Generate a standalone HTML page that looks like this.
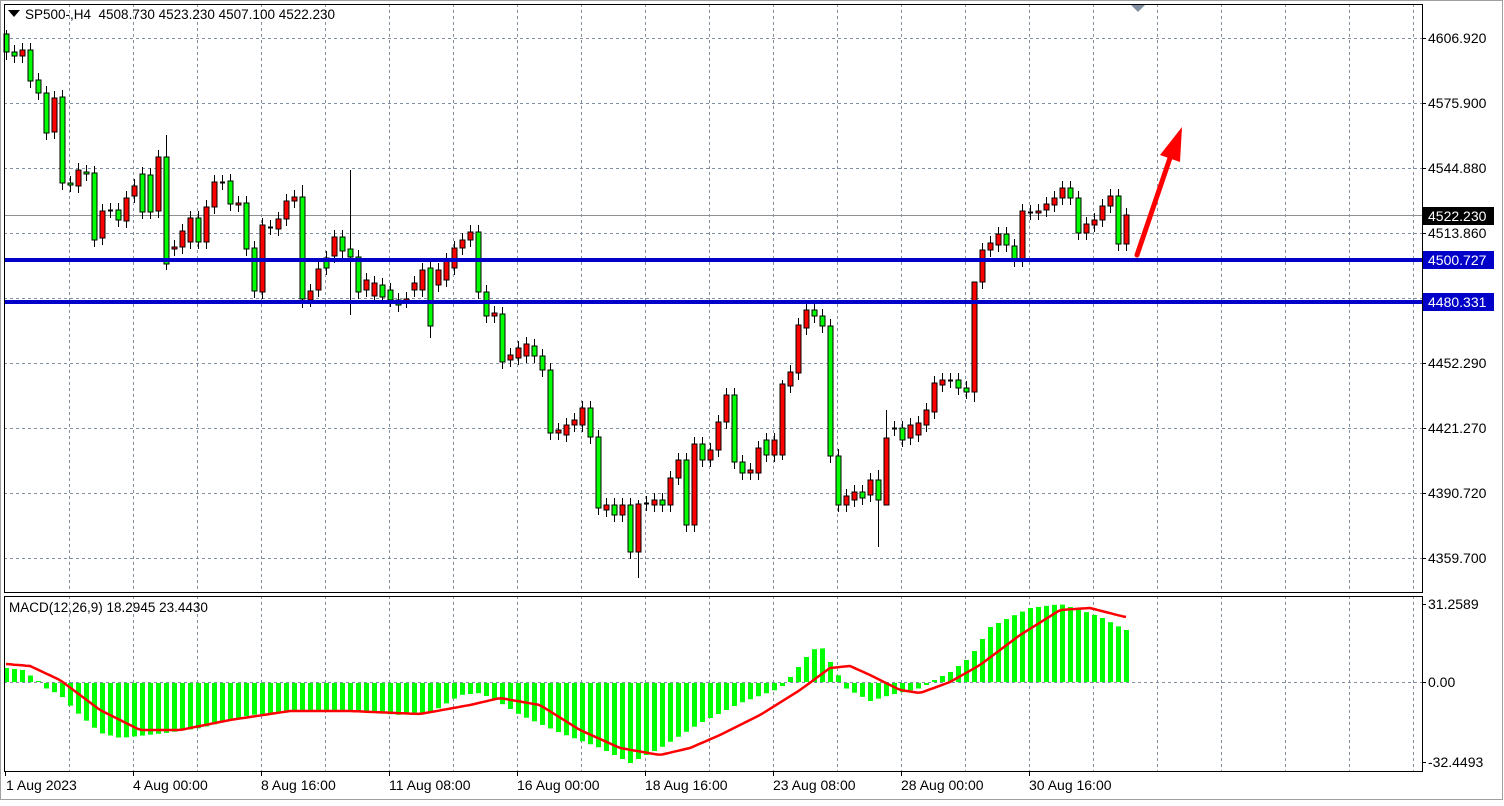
<!DOCTYPE html><html><head><meta charset="utf-8"><style>
body{margin:0;background:#fff;width:1504px;height:801px;overflow:hidden;font-family:"Liberation Sans",sans-serif}
</style></head><body>
<svg id="s" width="1504" height="801" xmlns="http://www.w3.org/2000/svg" font-family="Liberation Sans, sans-serif" font-size="14"></svg>
<script>
var s=document.getElementById('s'),h='';
h+='<rect x="0" y="0" width="1504" height="801" fill="#fff"/>';
h+='<rect x="0.5" y="0.5" width="1502" height="799" fill="none" stroke="#a0a0a0"/>';
for(var x=69;x<1422;x+=64){h+='<line x1="'+(x+.5)+'" y1="4" x2="'+(x+.5)+'" y2="592" stroke="#8090a0" stroke-dasharray="3,3"/>';h+='<line x1="'+(x+.5)+'" y1="596" x2="'+(x+.5)+'" y2="771" stroke="#8090a0" stroke-dasharray="3,3"/>';}
var yl=[[38,'4606.920'],[103,'4575.900'],[168,'4544.880'],[233,'4513.860'],[298,'4483.310'],[363,'4452.290'],[428,'4421.270'],[493,'4390.720'],[558,'4359.700']];
yl.forEach(function(a){h+='<line x1="4" y1="'+(a[0]+.5)+'" x2="1422" y2="'+(a[0]+.5)+'" stroke="#8090a0" stroke-dasharray="3,3"/>';h+='<line x1="1422" y1="'+(a[0]+.5)+'" x2="1426" y2="'+(a[0]+.5)+'" stroke="#000"/><text x="1428" y="'+(a[0]+5)+'">'+a[1]+'</text>';});
h+='<line x1="4" y1="682.5" x2="1422" y2="682.5" stroke="#8090a0" stroke-dasharray="3,3"/>';
[[604,'31.2589'],[682,'0.00'],[762,'-32.4493']].forEach(function(a){h+='<line x1="1422" y1="'+(a[0]+.5)+'" x2="1426" y2="'+(a[0]+.5)+'" stroke="#000"/><text x="1428" y="'+(a[0]+5)+'">'+a[1]+'</text>';});
h+='<line x1="4" y1="215.5" x2="1422" y2="215.5" stroke="#909090"/>';
var C=[[34,52,'g'],[52,56,'g'],[50,56,'r'],[50,81,'g'],[80,93,'g'],[93,133,'g'],[98,132,'r'],[97,183,'g'],[183,185,'g'],[170,186,'r'],[172,174,'g'],[173,240,'g'],[211,238,'r'],[210,211,'r'],[210,220,'g'],[198,221,'r'],[186,196,'r'],[174,212,'g'],[175,212,'g'],[157,211,'r'],[157,264,'g'],[247,249,'r'],[231,247,'r'],[218,242,'r'],[218,242,'g'],[207,242,'r'],[182,207,'r'],[182,183,'r'],[181,204,'g'],[203,205,'r'],[203,249,'g'],[248,291,'g'],[225,292,'r'],[227,228,'r'],[219,229,'r'],[201,219,'r'],[197,201,'r'],[197,299,'g'],[291,300,'r'],[269,290,'r'],[258,268,'g'],[237,256,'r'],[237,251,'g'],[249,257,'g'],[257,292,'g'],[280,290,'r'],[283,296,'r'],[285,297,'g'],[290,300,'g'],[300,305,'g'],[299,301,'r'],[283,290,'r'],[270,290,'r'],[268,326,'g'],[270,285,'r'],[260,280,'r'],[248,268,'r'],[240,248,'r'],[232,240,'r'],[232,292,'g'],[292,316,'g'],[313,316,'r'],[314,362,'g'],[355,360,'r'],[348,358,'r'],[344,356,'r'],[346,356,'g'],[356,370,'g'],[370,433,'g'],[430,433,'r'],[425,435,'r'],[420,425,'r'],[408,425,'r'],[408,437,'g'],[437,508,'g'],[505,510,'r'],[505,515,'g'],[505,515,'r'],[505,552,'g'],[504,552,'r'],[503,504,'r'],[500,505,'r'],[500,505,'g'],[478,505,'r'],[460,478,'r'],[460,525,'g'],[444,525,'r'],[444,460,'g'],[450,460,'r'],[422,450,'r'],[395,422,'r'],[395,462,'g'],[462,473,'g'],[470,473,'r'],[448,473,'r'],[440,455,'g'],[440,455,'r'],[384,455,'r'],[372,386,'r'],[325,373,'r'],[310,328,'r'],[310,316,'g'],[316,326,'g'],[326,456,'g'],[456,505,'g'],[496,505,'r'],[492,500,'r'],[492,498,'g'],[480,495,'r'],[480,500,'g'],[438,505,'r'],[428,429,'g'],[428,440,'g'],[425,438,'r'],[423,435,'r'],[410,425,'r'],[383,412,'r'],[380,385,'r'],[380,381,'r'],[380,388,'g'],[388,392,'g'],[282,392,'r'],[250,282,'r'],[243,250,'r'],[234,245,'r'],[234,245,'g'],[246,260,'g'],[211,260,'r'],[212,213,'g'],[211,213,'r'],[204,210,'r'],[198,205,'r'],[188,198,'r'],[188,198,'g'],[198,233,'g'],[224,233,'r'],[220,225,'r'],[206,220,'r'],[196,206,'r'],[196,244,'g'],[215,244,'r']];
var W={20:[135,270],43:[170,315],110:[410,505],109:[470,547],79:[500,578],37:[185,308],53:[262,338],121:[360,402],0:[30,60],97:[380,460]};
C.forEach(function(c,i){var x=6+8*i,t=c[0],b=c[1],hi=t-7,lo=b+7;if(W[i]){hi=W[i][0];lo=W[i][1];}
h+='<line x1="'+(x+.5)+'" y1="'+hi+'" x2="'+(x+.5)+'" y2="'+lo+'" stroke="#000"/>';
if(b-t<2){h+='<line x1="'+(x-2)+'" y1="'+(t+.5)+'" x2="'+(x+3)+'" y2="'+(t+.5)+'" stroke="#000" stroke-width="2"/>';}
else h+='<rect x="'+(x-2)+'" y="'+t+'" width="5" height="'+(b-t)+'" fill="'+(c[2]=='g'?'#00ff00':'#ff0000')+'" stroke="#000"/>';});
h+='<rect x="4" y="258" width="1418" height="4" fill="#0000c8"/><rect x="4" y="300" width="1418" height="4" fill="#0000c8"/>';
h+='<rect x="1423" y="251" width="71" height="18" fill="#0000c8"/><text x="1428" y="265" fill="#fff">4500.727</text>';
h+='<rect x="1423" y="293" width="71" height="18" fill="#0000c8"/><text x="1428" y="307" fill="#fff">4480.331</text>';
h+='<rect x="1423" y="207" width="71" height="18" fill="#000"/><text x="1428" y="221" fill="#fff">4522.230</text>';
h+='<line x1="1137" y1="255" x2="1170" y2="158" stroke="#ff0000" stroke-width="5" stroke-linecap="round"/><polygon points="1182,127 1160,155 1180,162" fill="#ff0000"/>';
h+='<polygon points="1131,5 1145,5 1138,12" fill="#8090a0"/>';
function interp(p,x){for(var k=0;k<p.length-1;k++){if(x<=p[k+1][0]){var t=(x-p[k][0])/(p[k+1][0]-p[k][0]);return p[k][1]+t*(p[k+1][1]-p[k][1]);}}return p[p.length-1][1];}
var H=[[6,14],[22,12],[38,1],[45,-5],[60,-12],[75,-28],[100,-50],[120,-55],[165,-50],[200,-45],[250,-32],[300,-28],[350,-28],[400,-32],[430,-30],[460,-12],[480,-10],[500,-20],[520,-32],[560,-50],[600,-65],[630,-80],[660,-65],[700,-40],[740,-20],[780,-5],[790,5],[810,30],[820,37],[830,20],[845,-5],[870,-18],[890,-12],[920,-5],[950,10],[970,25],[990,55],[1010,65],[1030,74],[1060,78],[1080,72],[1100,65],[1125,52]];
for(var i=0;i<141;i++){var x=6+8*i,v=interp(H,x);h+='<rect x="'+(x-2)+'" y="'+(v>0?682-v:683)+'" width="5" height="'+Math.max(1,Math.abs(v))+'" fill="#00ff00"/>';}
var S=[[6,664],[30,666],[60,680],[100,710],[140,730],[180,730],[230,720],[290,711],[350,711],[420,714],[470,705],[500,698],[540,705],[580,730],[620,748],[660,755],[690,748],[720,735],[760,715],[800,690],[830,668],[850,666],[870,675],[900,690],[920,693],[950,682],[980,665],[1020,635],[1060,610],[1090,608],[1125,617]];
var pts=[];for(var x=6;x<=1126;x+=4)pts.push(x+','+interp(S,x).toFixed(1));
h+='<polyline points="'+pts.join(' ')+'" fill="none" stroke="#ff0000" stroke-width="2.5"/>';
h+='<rect x="4.5" y="4.5" width="1418" height="588" fill="none" stroke="#000"/>';
h+='<rect x="4.5" y="596.5" width="1418" height="175" fill="none" stroke="#000"/>';
h+='<polygon points="8,10 20,10 14,17" fill="#000"/><text x="25" y="19" font-size="13.5" xml:space="preserve" style="white-space:pre">SP500-,H4  4508.730 4523.230 4507.100 4522.230</text>';
h+='<text x="9" y="612" font-size="13.5">MACD(12,26,9) 18.2945 23.4430</text>';
var L=['4 Aug 00:00','8 Aug 16:00','11 Aug 08:00','16 Aug 00:00','18 Aug 16:00','23 Aug 08:00','28 Aug 00:00','30 Aug 16:00'];
h+='<line x1="5.5" y1="771" x2="5.5" y2="776" stroke="#000"/><text x="6" y="790">1 Aug 2023</text>';
L.forEach(function(l,k){var x=133+128*k;h+='<line x1="'+(x+.5)+'" y1="771" x2="'+(x+.5)+'" y2="776" stroke="#000"/><text x="'+x+'" y="790">'+l+'</text>';});
s.innerHTML=h;
</script></body></html>
